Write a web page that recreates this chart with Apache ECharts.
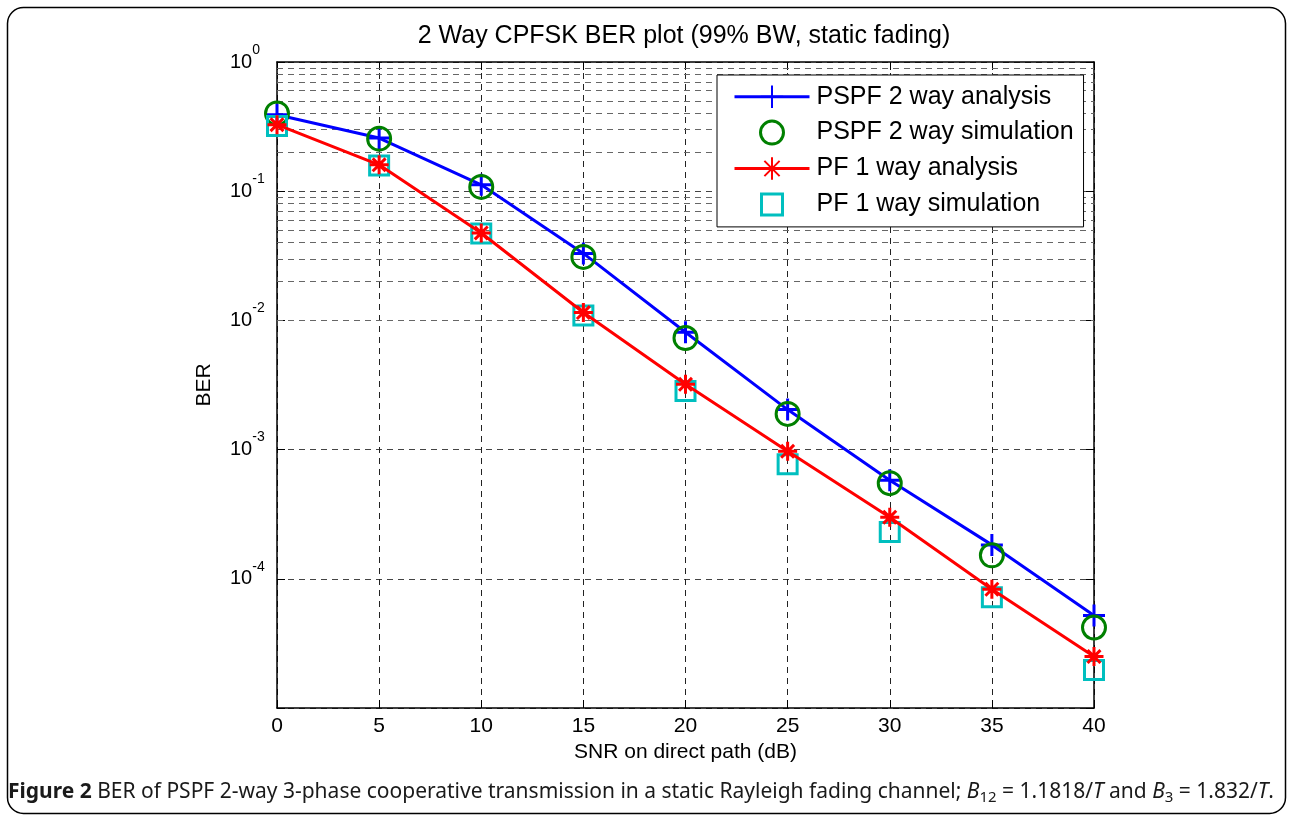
<!DOCTYPE html>
<html>
<head>
<meta charset="utf-8">
<script src="https://cdn.jsdelivr.net/npm/echarts@6/dist/echarts.min.js"></script>
<style>
html,body{margin:0;padding:0;background:#fff;}
#chart{width:1289px;height:816px;}
</style>
</head>
<body>
<div id="chart"></div>
<script>
const snr = [0, 5, 10, 15, 20, 25, 30, 35, 40];
const pspfAnalysis = [0.39, 0.258, 0.112, 0.033, 0.0081, 0.00204, 0.00058, 0.000183, 0.000052];
const pspfSimulation = [0.40, 0.255, 0.108, 0.031, 0.0073, 0.00189, 0.00055, 0.000152, 0.000042];
const pfAnalysis = [0.327, 0.16, 0.0475, 0.0115, 0.0032, 0.00097, 0.00030, 0.000083, 0.000025];
const pfSimulation = [0.32, 0.158, 0.047, 0.0109, 0.00284, 0.00077, 0.00023, 0.000072, 0.0000197];
const seriesNames = ['PSPF 2 way analysis', 'PSPF 2 way simulation', 'PF 1 way analysis', 'PF 1 way simulation'];
const titleText = '2 Way CPFSK BER plot (99% BW, static fading)';
const xAxisTitle = 'SNR on direct path (dB)';
const yAxisTitle = 'BER';
const yMin = 1e-5, yMax = 1;

// minor gridline values (2..9 x each decade)
const minorVals = [];
for (let e = -5; e < 0; e++) {
  for (let k = 2; k <= 9; k++) minorVals.push(k * Math.pow(10, e));
}

const pair = (ys) => snr.map((x, i) => [x, ys[i]]);
const plusPath = 'path://M5,0L5,10M0,5L10,5';
const starPath = 'path://M5,0L5,10M0,5L10,5M1.6,1.6L8.4,8.4M8.4,1.6L1.6,8.4';
const squarePath = 'path://M0,0L10,0L10,10L0,10Z';
const legendSquare = 'path://M0,0M28,28M3.5,3.5L24.5,3.5L24.5,24.5L3.5,24.5Z';
const legendCircle = 'path://M0,0M28,28M2.5,14A11.5,11.5 0 1,1 25.5,14A11.5,11.5 0 1,1 2.5,14Z';

const chart = echarts.init(document.getElementById('chart'));
const FONT = 'Liberation Sans, Arial, sans-serif';
const CAP = 'Noto Sans, Open Sans, sans-serif';

chart.setOption({
  backgroundColor: '#fff',
  animation: false,
  textStyle: { fontFamily: FONT },
  title: {
    text: titleText,
    left: 679, top: 19, textAlign: 'center',
    textStyle: { fontSize: 25, fontWeight: 'normal', color: '#000', fontFamily: FONT }
  },
  grid: { left: 277, top: 62, width: 817, height: 646, containLabel: false },
  xAxis: [{
    type: 'value', min: 0, max: 40, interval: 5,
    name: xAxisTitle, nameLocation: 'middle', nameGap: 33,
    nameTextStyle: { fontSize: 21, color: '#000', fontFamily: FONT },
    axisLine: { show: true, onZero: false, lineStyle: { color: '#000', width: 1.5 } },
    axisTick: { inside: true, length: 8, lineStyle: { color: '#000' } },
    axisLabel: { fontSize: 21, color: '#000', margin: 8, fontFamily: FONT },
    splitLine: { show: true, lineStyle: { type: [6, 5], color: '#222', width: 1 } }
  }, {
    type: 'value', min: 0, max: 40, interval: 5, position: 'top',
    axisLine: { show: true, onZero: false, lineStyle: { color: '#000', width: 1.5 } },
    axisTick: { inside: true, length: 8, lineStyle: { color: '#000' } },
    axisLabel: { show: false }, splitLine: { show: false }
  }],
  yAxis: [{
    type: 'log', logBase: 10, min: yMin, max: yMax,
    name: yAxisTitle, nameLocation: 'middle', nameGap: 62,
    nameTextStyle: { fontSize: 21, color: '#000', fontFamily: FONT },
    axisLine: { show: true, onZero: false, lineStyle: { color: '#000', width: 1.5 } },
    axisTick: { inside: true, length: 8, lineStyle: { color: '#000' } },
    axisLabel: {
      align: 'left', margin: 47, color: '#000',
      formatter: function (v) {
        const e = Math.round(Math.log10(v));
        if (e === -5) return '';
        return '{b|10}{s|' + e + '}';
      },
      rich: {
        b: { fontSize: 20, fontFamily: FONT, color: '#000', verticalAlign: 'bottom', lineHeight: 20 },
        s: { fontSize: 14, fontFamily: FONT, color: '#000', verticalAlign: 'bottom', lineHeight: 14, padding: [0, 0, 15, 0] }
      }
    },
    splitLine: { show: true, lineStyle: { type: [6, 5], color: '#444', width: 1 } }
  }, {
    type: 'log', logBase: 10, min: yMin, max: yMax, position: 'right',
    axisLine: { show: true, onZero: false, lineStyle: { color: '#000', width: 1.5 } },
    axisTick: { inside: true, length: 8, lineStyle: { color: '#000' } },
    axisLabel: { show: false }, splitLine: { show: false }
  }],
  legend: {
    left: 717, top: 75, orient: 'vertical', z: 50,
    backgroundColor: '#fff', borderColor: '#000', borderWidth: 1,
    padding: [8, 10, 7, 16],
    itemWidth: 75, itemHeight: 28, itemGap: 6.7,
    textStyle: { fontSize: 25, color: '#000', fontFamily: FONT, padding: [0, 0, 0, 2] },
    data: [
      { name: seriesNames[0], lineStyle: { width: 3 } },
      { name: seriesNames[1], icon: legendCircle, itemStyle: { color: 'rgba(0,0,0,0)', borderColor: '#008000', borderWidth: 3 } },
      { name: seriesNames[2], lineStyle: { width: 3 } },
      { name: seriesNames[3], icon: legendSquare, itemStyle: { color: 'rgba(0,0,0,0)', borderColor: '#00BFBF', borderWidth: 3 } }
    ]
  },
  graphic: [{
    type: 'rect', left: 5, top: 5, silent: true, z: 0,
    shape: { width: 1278, height: 806, r: 16 },
    style: { fill: 'none', stroke: '#000', lineWidth: 1.5 }
  }, {
    type: 'text', left: 8, top: 782, silent: true,
    style: {
      text: '{bf|Figure 2} BER of PSPF 2-way 3-phase cooperative transmission in a static Rayleigh fading channel; {it|B}{sub|12} = 1.1818/{it|T} and {it|B}{sub|3} = 1.832/{it|T}.',
      fontFamily: CAP, fontSize: 21, fill: '#1a1a1a',
      rich: {
        bf: { fontWeight: 'bold', fontFamily: CAP, fontSize: 21, fill: '#1a1a1a' },
        it: { fontStyle: 'italic', fontFamily: CAP, fontSize: 21, fill: '#1a1a1a' },
        sub: { fontFamily: CAP, fontSize: 15, fill: '#1a1a1a', verticalAlign: 'top', padding: [10, 0, 0, 0] }
      }
    }
  }],
  series: [{
    name: seriesNames[0], type: 'line', data: pair(pspfAnalysis),
    xAxisIndex: 0, yAxisIndex: 0, z: 3,
    lineStyle: { color: '#0000FF', width: 3 },
    symbol: plusPath, symbolSize: 22, showAllSymbol: true,
    itemStyle: { color: 'none', borderColor: '#0000FF', borderWidth: 3 },
    markLine: {
      silent: true, symbol: 'none', animation: false, z: 1,
      label: { show: false },
      lineStyle: { type: [6, 5], color: '#666', width: 1 },
      emphasis: { disabled: true },
      data: minorVals.map(v => ({ yAxis: v }))
    }
  }, {
    name: seriesNames[1], type: 'scatter', data: pair(pspfSimulation),
    xAxisIndex: 0, yAxisIndex: 0, z: 4,
    symbol: 'circle', symbolSize: 23,
    itemStyle: { color: 'rgba(0,0,0,0)', borderColor: '#008000', borderWidth: 3, opacity: 1 }
  }, {
    name: seriesNames[2], type: 'line', data: pair(pfAnalysis),
    xAxisIndex: 0, yAxisIndex: 0, z: 5,
    lineStyle: { color: '#FF0000', width: 3 },
    symbol: starPath, symbolSize: 19, showAllSymbol: true,
    itemStyle: { color: 'none', borderColor: '#FF0000', borderWidth: 3 }
  }, {
    name: seriesNames[3], type: 'scatter', data: pair(pfSimulation),
    xAxisIndex: 0, yAxisIndex: 0, z: 4,
    symbol: squarePath, symbolSize: 19,
    itemStyle: { color: 'rgba(0,0,0,0)', borderColor: '#00BFBF', borderWidth: 3, opacity: 1 }
  }]
});
</script>
</body>
</html>
